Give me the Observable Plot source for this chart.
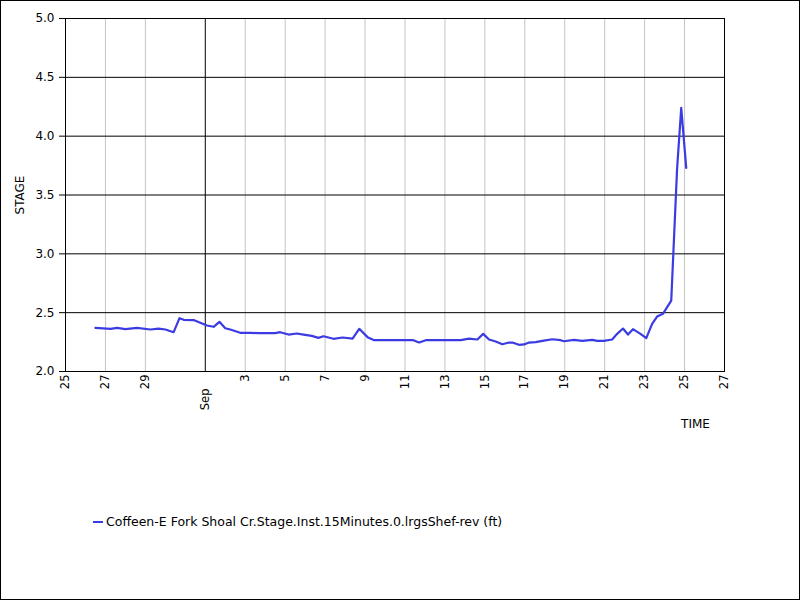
<!DOCTYPE html>
<html>
<head>
<meta charset="utf-8">
<script src="https://cdn.jsdelivr.net/npm/d3@7"></script>
<script src="https://cdn.jsdelivr.net/npm/@observablehq/plot@0.6"></script>
<style>
  html, body { margin: 0; padding: 0; background: #fff; }
  #wrap { position: relative; width: 800px; height: 600px; outline: 1px solid #000; outline-offset: -1px; overflow: hidden; font-family: "DejaVu Sans", sans-serif; }
  #legend { position: absolute; left: 93px; top: 514px; font-size: 12.5px; color: #000; display: flex; align-items: center; white-space: nowrap; }
  #legend .sw { display: inline-block; width: 10px; height: 2px; margin-right: 3px; }
  svg { display: block; }
</style>
</head>
<body>
<div id="wrap"></div>
<script>
// ---- data ----
const times = [
  "2019-08-26T12:00Z","2019-08-27T06:00Z","2019-08-27T14:00Z","2019-08-28T00:00Z","2019-08-28T14:00Z",
  "2019-08-29T06:00Z","2019-08-29T16:00Z","2019-08-30T00:00Z","2019-08-30T10:00Z","2019-08-30T17:00Z",
  "2019-08-30T22:00Z","2019-08-31T10:00Z","2019-08-31T18:00Z","2019-09-01T02:00Z","2019-09-01T10:00Z",
  "2019-09-01T17:00Z","2019-09-02T00:00Z","2019-09-02T06:00Z","2019-09-02T18:00Z","2019-09-03T06:00Z",
  "2019-09-03T16:00Z","2019-09-04T12:00Z","2019-09-04T18:00Z","2019-09-05T04:00Z","2019-09-05T14:00Z",
  "2019-09-05T22:00Z","2019-09-06T08:00Z","2019-09-06T16:00Z","2019-09-06T22:00Z","2019-09-07T10:00Z",
  "2019-09-07T21:00Z","2019-09-08T09:00Z","2019-09-08T17:00Z","2019-09-09T03:00Z","2019-09-09T11:00Z",
  "2019-09-11T10:00Z","2019-09-11T17:00Z","2019-09-12T01:00Z","2019-09-13T19:00Z","2019-09-14T05:00Z",
  "2019-09-14T15:00Z","2019-09-14T22:00Z","2019-09-15T05:00Z","2019-09-15T13:00Z","2019-09-15T21:00Z",
  "2019-09-16T05:00Z","2019-09-16T09:00Z","2019-09-16T17:00Z","2019-09-16T23:00Z","2019-09-17T05:00Z",
  "2019-09-17T13:00Z","2019-09-17T23:00Z","2019-09-18T09:00Z","2019-09-18T19:00Z","2019-09-18T23:00Z",
  "2019-09-19T11:00Z","2019-09-19T21:00Z","2019-09-20T09:00Z","2019-09-20T15:00Z","2019-09-20T23:00Z",
  "2019-09-21T09:00Z","2019-09-21T15:00Z","2019-09-21T22:00Z","2019-09-22T04:00Z","2019-09-22T10:00Z",
  "2019-09-22T19:00Z","2019-09-23T02:00Z","2019-09-23T09:00Z","2019-09-23T15:00Z","2019-09-23T22:00Z",
  "2019-09-24T08:00Z","2019-09-24T15:00Z","2019-09-24T20:00Z","2019-09-25T02:00Z"
];
const stage = [
  2.371,2.363,2.371,2.360,2.371,
  2.357,2.365,2.357,2.334,2.453,
  2.439,2.437,2.414,2.391,2.380,
  2.422,2.368,2.357,2.329,2.329,
  2.326,2.326,2.334,2.314,2.323,
  2.314,2.303,2.286,2.300,2.278,
  2.289,2.280,2.363,2.292,2.266,
  2.266,2.246,2.266,2.266,2.280,
  2.272,2.320,2.272,2.255,2.232,
  2.246,2.246,2.227,2.230,2.246,
  2.249,2.263,2.274,2.266,2.257,
  2.269,2.260,2.269,2.260,2.260,
  2.272,2.320,2.365,2.314,2.360,
  2.320,2.283,2.405,2.467,2.490,
  2.603,3.720,4.240,3.730
];
const seriesName = "Coffeen-E Fork Shoal Cr.Stage.Inst.15Minutes.0.lrgsShef-rev (ft)";
const xTickDates = ["2019-08-25","2019-08-27","2019-08-29","2019-09-01","2019-09-03","2019-09-05",
  "2019-09-07","2019-09-09","2019-09-11","2019-09-13","2019-09-15","2019-09-17","2019-09-19",
  "2019-09-21","2019-09-23","2019-09-25","2019-09-27"];
const xTickLabels = ["25","27","29","Sep","3","5","7","9","11","13","15","17","19","21","23","25","27"];
const yTicks = [2.0, 2.5, 3.0, 3.5, 4.0, 4.5, 5.0];
const xDomain = ["2019-08-25","2019-09-27"];
const yDomain = [2.0, 5.0];
const xLabel = "TIME";
const yLabel = "STAGE";

// ---- build ----
const data = times.map((t, i) => ({t: new Date(t), v: stage[i]}));
const tickObjs = xTickDates.map((d, i) => ({t: new Date(d + "T00:00Z"), label: xTickLabels[i]}));
const monthTicks = tickObjs.filter(d => isNaN(+d.label));
const dayTicks = tickObjs.filter(d => !isNaN(+d.label));
const labelOf = new Map(tickObjs.map(d => [+d.t, d.label]));
const innerGrid = yTicks.slice(1, -1);
const COLOR = "#3b3be3";

const chart = Plot.plot({
  width: 800,
  height: 460,
  marginTop: 18,
  marginLeft: 65,
  marginRight: 76,
  marginBottom: 89,
  style: {fontFamily: "DejaVu Sans, sans-serif", fontSize: "12px", color: "#000", background: "#fff"},
  x: {type: "utc", domain: xDomain.map(d => new Date(d + "T00:00Z"))},
  y: {domain: yDomain},
  marks: [
    Plot.ruleX(dayTicks.map(d => d.t), {stroke: "#c4c4c4", strokeWidth: 1}),
    Plot.ruleX(monthTicks.map(d => d.t), {stroke: "#000", strokeWidth: 1}),
    Plot.ruleY(innerGrid, {stroke: "#000", strokeWidth: 1}),
    Plot.frame({stroke: "#000", strokeWidth: 1}),
    Plot.line(data, {x: "t", y: "v", stroke: COLOR, strokeWidth: 2.2, strokeLinejoin: "round"}),
    Plot.axisY({ticks: yTicks, tickFormat: d3.format(".1f"), tickSize: 6, tickPadding: 5, label: null, fontSize: 12}),
    Plot.axisX({ticks: dayTicks.map(d => d.t), tickFormat: d => labelOf.get(+d), tickRotate: -90, tickSize: 0, tickPadding: 3, label: null, fontSize: 11.5}),
    Plot.axisX({ticks: monthTicks.map(d => d.t), tickFormat: d => labelOf.get(+d), tickRotate: -90, tickSize: 0, tickPadding: 17, label: null, fontSize: 11.5}),
    Plot.text([yLabel], {frameAnchor: "left", dx: -45, rotate: -90, fontSize: 12, textAnchor: "middle"}),
    Plot.text([xLabel], {frameAnchor: "bottom-right", dx: -29, dy: 56, fontSize: 12, textAnchor: "middle"})
  ]
});
const wrap = document.getElementById("wrap");
wrap.appendChild(chart);
const legend = document.createElement("div");
legend.id = "legend";
legend.innerHTML = `<span class="sw" style="background:${COLOR}"></span><span></span>`;
legend.lastChild.textContent = seriesName;
wrap.appendChild(legend);
</script>
</body>
</html>
